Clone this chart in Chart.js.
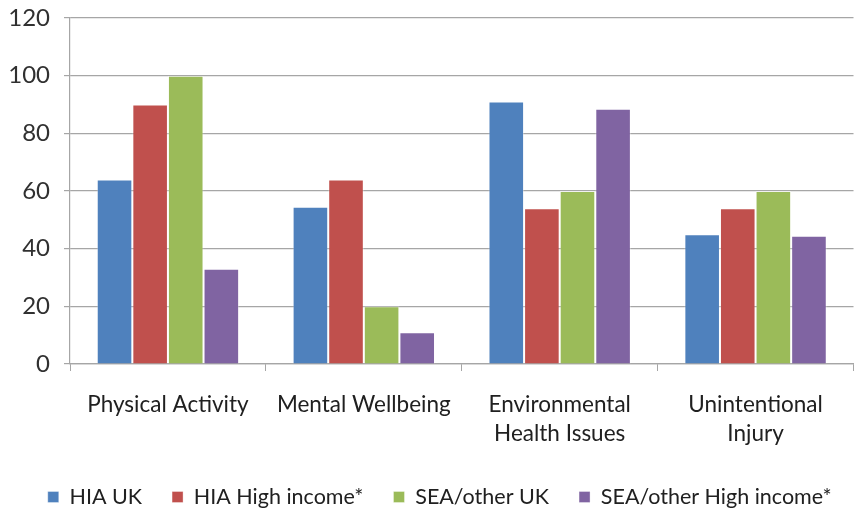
<!DOCTYPE html>
<html>
<head>
<meta charset="utf-8">
<script src="https://cdn.jsdelivr.net/npm/chart.js@4"></script>
<style>
  html, body { margin: 0; padding: 0; background: #fff; }
  #wrap { width: 855px; height: 510px; }
</style>
</head>
<body>
<div id="wrap"><canvas id="myChart" width="855" height="510"></canvas></div>
<script>
var categories = ['Physical Activity', 'Mental Wellbeing', ['Environmental', 'Health Issues'], ['Unintentional', 'Injury']];
var hia_uk = [64, 54.5, 91, 45];
var hia_high = [90, 64, 54, 54];
var sea_uk = [100, 20, 60, 60];
var sea_high = [33, 11, 88.5, 44.5];
var y_ticks = [0, 20, 40, 60, 80, 100, 120];

var font_family = 'Lato, "Open Sans", sans-serif';
var grid_col = '#a6a6a6';

function make_set(label, data, col) {
    return {
        label: label,
        data: data,
        backgroundColor: col,
        borderColor: 'rgba(255,255,255,0.35)',
        borderWidth: 1,
        categoryPercentage: 0.727,
        barPercentage: 1.0
    };
}

// legend sits a little right of centre in the original
var legend_shift = {
    id: 'legend_shift',
    afterLayout: function (c) {
        c.legend.left += 10;
        c.legend.right += 10;
    }
};

var ctx = document.getElementById('myChart');
var chart = new Chart(ctx, {
    type: 'bar',
    data: {
        labels: categories,
        datasets: [
            make_set('HIA UK', hia_uk, '#4f81bd'),
            make_set('HIA High income*', hia_high, '#c0504d'),
            make_set('SEA/other UK', sea_uk, '#9bbb59'),
            make_set('SEA/other High income*', sea_high, '#8064a2')
        ]
    },
    plugins: [legend_shift],
    options: {
        responsive: false,
        animation: false,
        layout: { padding: { top: 18, right: 1.5, left: 6, bottom: -7.75 } },
        scales: {
            y: {
                min: 0,
                max: 120,
                afterBuildTicks: function (axis) {
                    axis.ticks = y_ticks.map(function (v) { return { value: v }; });
                },
                afterFit: function (axis) {
                    axis.width = 64;
                    axis.paddingTop = 0;
                    axis.paddingBottom = 0;
                },
                grid: { color: grid_col, lineWidth: 1.2, tickLength: 6 },
                border: { color: grid_col, width: 1.2 },
                ticks: { color: '#303030', padding: 14, font: { family: font_family, size: 24 } }
            },
            x: {
                afterFit: function (axis) {
                    axis.height = 92.25;
                    axis.paddingLeft = 0;
                    axis.paddingRight = 0;
                },
                grid: { display: true, drawOnChartArea: false, color: grid_col, tickLength: 7, offset: true },
                border: { color: grid_col, width: 1.2 },
                ticks: { color: '#202020', padding: 19.5, maxRotation: 0, font: { family: font_family, size: 22.5, lineHeight: 1.29 } }
            }
        },
        plugins: {
            legend: {
                position: 'bottom',
                labels: {
                    color: '#202020',
                    boxWidth: 11,
                    boxHeight: 11,
                    padding: 30,
                    font: { family: font_family, size: 21.5 }
                }
            },
            tooltip: { enabled: false }
        }
    }
});
</script>
</body>
</html>
